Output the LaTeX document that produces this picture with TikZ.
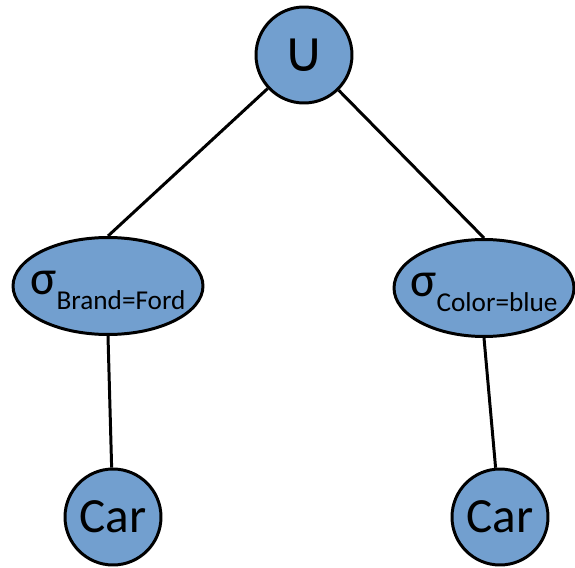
\documentclass[tikz,border=0pt]{standalone}
\usepackage{fontspec}
\setmainfont{Carlito}
\newfontfamily\symfont{DejaVu Sans}
\usepackage{xcolor}
\usepackage{tikz}
\usetikzlibrary{shapes,positioning,calc}
\definecolor{opblue}{HTML}{729FCF}
\tikzset{
    opnode/.style={circle, draw=black, fill=opblue, line width=1.7pt, minimum size=1.92cm, inner sep=0pt, font=\fontsize{28}{30}\selectfont},
    selnode/.style={ellipse, draw=black, fill=opblue, line width=1.7pt, minimum width=3.8cm, minimum height=1.94cm, inner sep=0pt, text height=0.32cm, text depth=0pt, font=\fontsize{28}{30}\selectfont},
    treeline/.style={line width=1.7pt}
}
\newcommand{\selsub}[1]{\makebox[0pt]{σ\raisebox{-9pt}{\fontsize{15.5}{17}\selectfont #1}}}
\begin{document}
\begin{tikzpicture}[x=0.02cm, y=-0.02cm]
    \useasboundingbox (0,0) rectangle (575,568);

    % Union
    \node[opnode] (union) at (304,55) {\symfont\fontsize{32}{34}\selectfont ∪};

    % Selections
    \node[selnode] (selbrand) at (108,286) {\selsub{Brand=Ford}};
    \node[selnode, minimum width=3.6cm] (selcolor) at (484,288) {\selsub{Color=blue}};

    % Relations
    \node[opnode] (carleft) at (113,517) {Car};
    \node[opnode] (carright) at (500,517) {Car};

    % Edges
    \draw[treeline] (union) -- (selbrand.north);
    \draw[treeline] (union) -- (selcolor.north);
    \draw[treeline] (selbrand.south) -- (carleft);
    \draw[treeline] (selcolor.south) -- (carright);
\end{tikzpicture}
\end{document}
